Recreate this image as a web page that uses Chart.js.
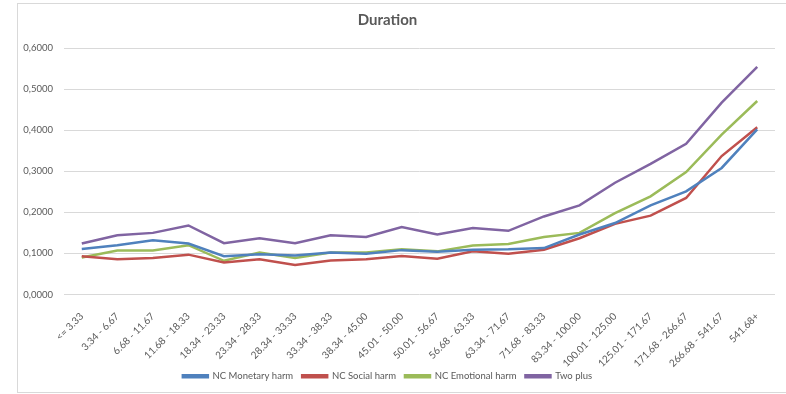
<!DOCTYPE html>
<html>
<head>
<meta charset="utf-8">
<script src="https://cdn.jsdelivr.net/npm/chart.js@4"></script>
<style>
  body { margin: 0; background: #fff; }
  #wrap { position: relative; width: 786px; height: 394px; overflow: hidden; }
  #frame { position: absolute; left: 17px; top: 3px; width: 790px; height: 388px; border: 1px solid #d9d9d9; }
  #box { position: absolute; left: 0; top: 0; width: 786px; height: 394px; }
</style>
</head>
<body>
<div id="wrap">
  <div id="frame"></div>
  <div id="box"><canvas id="chart"></canvas></div>
</div>
<script>
  var categories = ['<= 3.33', '3.34 - 6.67', '6.68 - 11.67', '11.68 - 18.33', '18.34 - 23.33',
    '23.34 - 28.33', '28.34 - 33.33', '33.34 - 38.33', '38.34 - 45.00', '45.01 - 50.00',
    '50.01 - 56.67', '56.68 - 63.33', '63.34 - 71.67', '71.68 - 83.33', '83.34 - 100.00',
    '100.01 - 125.00', '125.01 - 171.67', '171.68 - 266.67', '266.68 - 541.67', '541.68+'];
  var monetary = [0.111, 0.120, 0.132, 0.124, 0.093, 0.098, 0.095, 0.102, 0.099, 0.108,
    0.104, 0.109, 0.110, 0.113, 0.146, 0.174, 0.217, 0.251, 0.308, 0.402];
  var social = [0.093, 0.086, 0.089, 0.097, 0.078, 0.086, 0.072, 0.083, 0.086, 0.094,
    0.087, 0.105, 0.099, 0.109, 0.137, 0.172, 0.192, 0.235, 0.337, 0.407];
  var emotional = [0.090, 0.107, 0.107, 0.120, 0.082, 0.102, 0.089, 0.102, 0.102, 0.110,
    0.105, 0.119, 0.123, 0.140, 0.150, 0.198, 0.239, 0.298, 0.389, 0.471];
  var twoPlus = [0.124, 0.144, 0.150, 0.168, 0.125, 0.137, 0.125, 0.144, 0.140, 0.164,
    0.146, 0.162, 0.155, 0.190, 0.217, 0.272, 0.318, 0.367, 0.467, 0.554];

  var grey = '#595959';
  var ff = 'Lato, "Open Sans", sans-serif';

  function line(label, data, color) {
    return {
      label: label,
      data: data,
      borderColor: color,
      backgroundColor: color,
      borderWidth: 2.5,
      pointRadius: 0,
      tension: 0
    };
  }

  // the x labels are clipped to the axis box, let them run down into the legend area
  var unclipLabels = {
    id: 'unclipLabels',
    afterLayout: function (chart) {
      chart.scales.x.bottom = chart.height;
    }
  };

  var ctx = document.getElementById('chart');
  new Chart(ctx, {
    type: 'line',
    data: {
      labels: categories,
      datasets: [
        line('NC Monetary harm', monetary, '#4F81BD'),
        line('NC Social harm', social, '#C0504D'),
        line('NC Emotional harm', emotional, '#9BBB59'),
        line('Two plus', twoPlus, '#8064A2')
      ]
    },
    plugins: [unclipLabels],
    options: {
      responsive: true,
      maintainAspectRatio: false,
      animation: false,
      layout: { padding: { left: 0, right: 11, top: 0, bottom: 3 } },
      plugins: {
        title: {
          display: true,
          text: 'Duration',
          color: grey,
          font: { family: ff, size: 15, weight: 'bold' },
          padding: { top: 11, bottom: 19 }
        },
        legend: {
          position: 'bottom',
          labels: {
            color: grey,
            font: { family: ff, size: 9.5 },
            boxWidth: 25,
            boxHeight: 2,
            padding: 9
          }
        },
        tooltip: { enabled: false }
      },
      scales: {
        x: {
          offset: true,
          grid: { display: false },
          border: { display: false },
          ticks: {
            color: grey,
            font: { family: ff, size: 10 },
            minRotation: 45,
            maxRotation: 45,
            autoSkip: false,
            padding: 8
          },
          afterFit: function (s) { s.height = 68; }
        },
        y: {
          min: 0,
          max: 0.6,
          grid: { color: '#d9d9d9', lineWidth: 1, drawTicks: false },
          border: { display: false },
          ticks: {
            stepSize: 0.1,
            color: grey,
            font: { family: ff, size: 9.5 },
            padding: 11,
            callback: function (v) { return v.toFixed(4).replace('.', ','); }
          },
          afterFit: function (s) { s.width = 64; }
        }
      }
    }
  });
</script>
</body>
</html>
